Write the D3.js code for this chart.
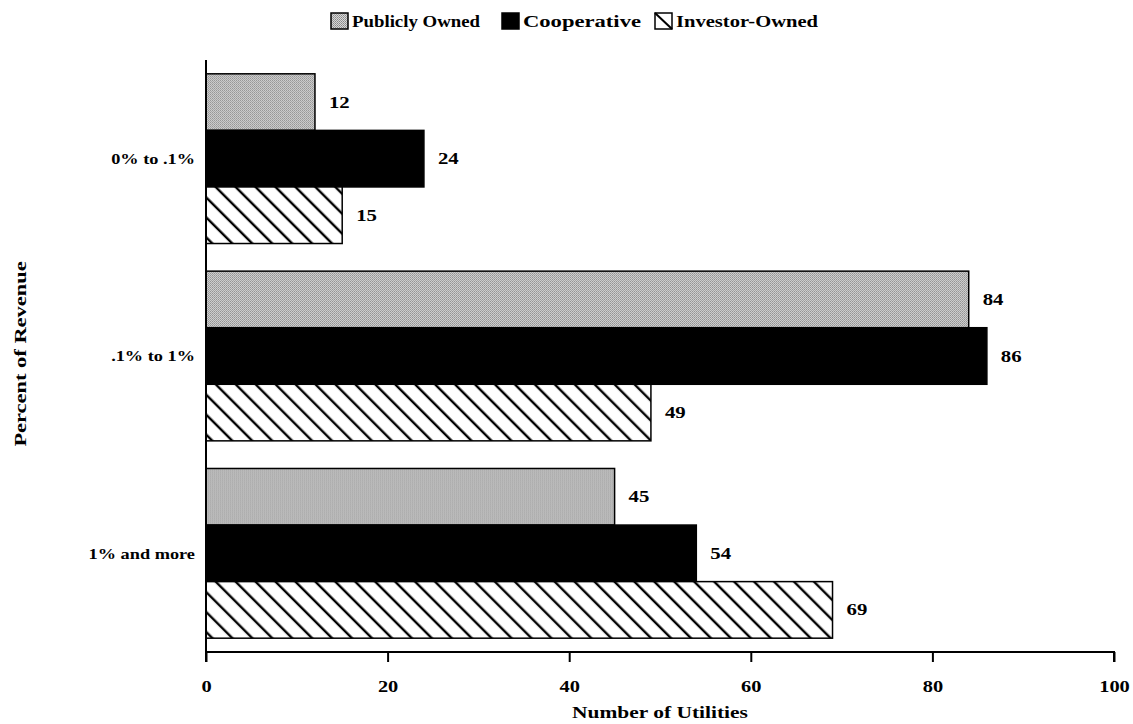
<!DOCTYPE html>
<html>
<head>
<meta charset="utf-8">
<script src="https://cdn.jsdelivr.net/npm/d3@7"></script>
<style>
  html, body { margin: 0; padding: 0; background: #fff; }
  svg { display: block; }
  text { font-family: 'Liberation Serif', 'Times New Roman', serif; font-weight: bold; fill: #000; }
</style>
</head>
<body>
<div id="chart"></div>
<script>
const categories = ['0% to .1%', '.1% to 1%', '1% and more'];
const seriesNames = ['Publicly Owned', 'Cooperative', 'Investor-Owned'];
const publiclyOwned = [12, 84, 45];
const cooperative = [24, 86, 54];
const investorOwned = [15, 49, 69];
const xTicks = [0, 20, 40, 60, 80, 100];

const seriesValues = [publiclyOwned, cooperative, investorOwned];
const fills = ['url(#stipple)', '#000', 'url(#hatch)'];

const width = 1133, height = 724;
const margin = { top: 60, right: 19, bottom: 72, left: 206 };

// legend placement
const legendX = [331, 502, 655];
const legendW = [128, 118, 142];

const svg = d3.select('#chart').append('svg')
  .attr('width', width)
  .attr('height', height);

// the scanned original has wide lettering: stretch each text by a factor
function stretch(sel, f) {
  sel.each(function () {
    const w = this.getComputedTextLength();
    d3.select(this).attr('textLength', w * f).attr('lengthAdjust', 'spacingAndGlyphs');
  });
}

// patterns
const defs = svg.append('defs');
const stipple = defs.append('pattern')
  .attr('id', 'stipple')
  .attr('patternUnits', 'userSpaceOnUse')
  .attr('width', 2).attr('height', 2);
stipple.append('rect').attr('width', 2).attr('height', 2).attr('fill', '#d8d8d8');
stipple.append('rect').attr('width', 1).attr('height', 1).attr('fill', '#888');
stipple.append('rect').attr('x', 1).attr('y', 1).attr('width', 1).attr('height', 1).attr('fill', '#9c9c9c');

const hatch = defs.append('pattern')
  .attr('id', 'hatch')
  .attr('patternUnits', 'userSpaceOnUse')
  .attr('width', 14.1).attr('height', 14.1)
  .attr('patternTransform', 'rotate(-45)');
hatch.append('rect').attr('width', 14.1).attr('height', 14.1).attr('fill', '#fff');
hatch.append('line')
  .attr('x1', 2).attr('y1', 0).attr('x2', 2).attr('y2', 14.1)
  .attr('stroke', '#000').attr('stroke-width', 2.4);

// scales
const x = d3.scaleLinear()
  .domain([0, 100])
  .range([margin.left, width - margin.right]);

const y = d3.scaleBand()
  .domain(categories)
  .range([margin.top, height - margin.bottom])
  .paddingInner(0.14)
  .paddingOuter(0.07);

const ySub = d3.scaleBand()
  .domain(seriesNames)
  .range([0, y.bandwidth()]);

// bars
const groups = svg.append('g').selectAll('g')
  .data(categories)
  .join('g')
  .attr('transform', d => `translate(0,${y(d)})`);

groups.selectAll('rect')
  .data((d, i) => seriesNames.map((s, j) => ({ s, j, v: seriesValues[j][i] })))
  .join('rect')
  .attr('x', x(0))
  .attr('y', d => ySub(d.s))
  .attr('width', d => x(d.v) - x(0))
  .attr('height', ySub.bandwidth())
  .attr('fill', d => fills[d.j])
  .attr('stroke', '#000')
  .attr('stroke-width', 1.5);

const valueLabels = groups.selectAll('text.val')
  .data((d, i) => seriesNames.map((s, j) => ({ s, j, v: seriesValues[j][i] })))
  .join('text')
  .attr('class', 'val')
  .attr('x', d => x(d.v) + 14)
  .attr('y', d => ySub(d.s) + ySub.bandwidth() / 2)
  .attr('dy', '0.35em')
  .attr('font-size', 16)
  .text(d => d.v);
stretch(valueLabels, 1.3);

// x axis
const xAxis = svg.append('g')
  .attr('transform', `translate(0,${height - margin.bottom})`)
  .call(d3.axisBottom(x).tickValues(xTicks).tickSize(10).tickPadding(20));
xAxis.select('.domain').attr('stroke-width', 2).attr('d', `M${x(0)},0H${x(100)}V10`);
xAxis.selectAll('.tick line').attr('stroke-width', 2);
const tickText = xAxis.selectAll('.tick text')
  .attr('font-size', 17)
  .attr('font-family', "'Liberation Serif', serif")
  .attr('font-weight', 'bold')
  .attr('dy', '0.6em');
stretch(tickText, 1.2);

// y axis line
svg.append('line')
  .attr('x1', x(0)).attr('x2', x(0))
  .attr('y1', margin.top).attr('y2', height - margin.bottom + 10)
  .attr('stroke', '#000').attr('stroke-width', 2);

// category labels
const catLabels = svg.append('g').selectAll('text')
  .data(categories)
  .join('text')
  .attr('x', x(0) - 11)
  .attr('y', d => y(d) + y.bandwidth() / 2)
  .attr('dy', '0.35em')
  .attr('text-anchor', 'end')
  .attr('font-size', 15)
  .text(d => d);
stretch(catLabels, 1.22);

// axis titles
const xTitle = svg.append('text')
  .attr('x', 660)
  .attr('y', 718)
  .attr('text-anchor', 'middle')
  .attr('font-size', 16)
  .text('Number of Utilities');
stretch(xTitle, 1.34);

const yTitle = svg.append('text')
  .attr('transform', 'translate(26,354) rotate(-90)')
  .attr('text-anchor', 'middle')
  .attr('font-size', 17)
  .text('Percent of Revenue');
stretch(yTitle, 1.32);

// legend
seriesNames.forEach((s, j) => {
  const g = svg.append('g').attr('transform', `translate(${legendX[j]},13)`);
  g.append('rect')
    .attr('width', 17).attr('height', 16)
    .attr('fill', j === 2 ? '#fff' : fills[j])
    .attr('stroke', '#000').attr('stroke-width', 1.5);
  if (j === 2) {
    g.append('line').attr('x1', 0).attr('y1', 0).attr('x2', 17).attr('y2', 16)
      .attr('stroke', '#000').attr('stroke-width', 2);
  }
  g.append('text')
    .attr('x', 21)
    .attr('y', 14)
    .attr('font-size', 17)
    .attr('textLength', legendW[j])
    .attr('lengthAdjust', 'spacingAndGlyphs')
    .text(s);
});
</script>
</body>
</html>
